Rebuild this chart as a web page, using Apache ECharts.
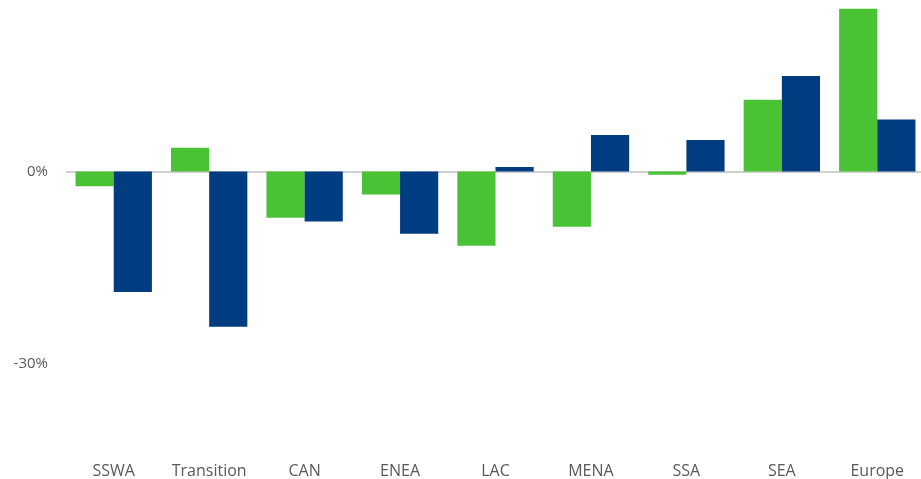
<!DOCTYPE html>
<html>
<head>
<meta charset="utf-8">
<script src="https://cdn.jsdelivr.net/npm/echarts@6/dist/echarts.min.js"></script>
<style>
    html, body { margin: 0; padding: 0; background: #ffffff; overflow: hidden; }
    #chart { width: 930px; height: 479px; }
</style>
</head>
<body>
<div id="chart"></div>
<script>
// categories (regions)
let categories = ['SSWA', 'Transition', 'CAN', 'ENEA', 'LAC', 'MENA', 'SSA', 'SEA', 'Europe'];
// green series, %
let greenValues = [-2.3, 3.7, -7.2, -3.6, -11.6, -8.6, -0.5, 11.2, 25.4];
// blue series, %
let blueValues = [-18.8, -24.2, -7.8, -9.7, 0.7, 5.7, 4.9, 14.9, 8.1];
// only these ticks get a label
let shownTicks = [0, -30];

let myChart = echarts.init(document.getElementById('chart'));

let option = {
    backgroundColor: '#ffffff',
    animation: false,
    grid: {
        left: 66,
        width: 859,
        top: 8,
        bottom: 19,
        containLabel: false,
    },
    xAxis: {
        type: 'category',
        data: categories,
        axisLine: { show: false },
        axisTick: { show: false },
        axisLabel: {
            interval: 0,
            hideOverlap: false,
            margin: 3,
            fontSize: 16,
            fontFamily: 'Open Sans',
            color: '#595959',
            verticalAlign: 'top',
        },
    },
    yAxis: {
        type: 'value',
        min: -45,
        max: 25.5,
        interval: 15,
        axisLine: { show: false },
        axisTick: { show: false },
        splitLine: { show: false },
        axisLabel: {
            margin: 18,
            fontSize: 15,
            fontFamily: 'Open Sans',
            color: '#595959',
            showMaxLabel: false,
            formatter: function (v) {
                return shownTicks.indexOf(v) >= 0 ? v + '%' : '';
            },
        },
    },
    series: [
        {
            name: 'green',
            type: 'bar',
            data: greenValues,
            barGap: 0,
            barCategoryGap: '20%',
            itemStyle: { color: '#4AC236' },
            markLine: {
                silent: true,
                symbol: 'none',
                label: { show: false },
                lineStyle: { color: '#d0d0d0', width: 2, type: 'solid' },
                data: [{ yAxis: 0 }],
                z: 1,
            },
        },
        {
            name: 'blue',
            type: 'bar',
            data: blueValues,
            barGap: 0,
            barCategoryGap: '20%',
            itemStyle: { color: '#003C80' },
        },
    ],
};

myChart.setOption(option);
</script>
</body>
</html>
